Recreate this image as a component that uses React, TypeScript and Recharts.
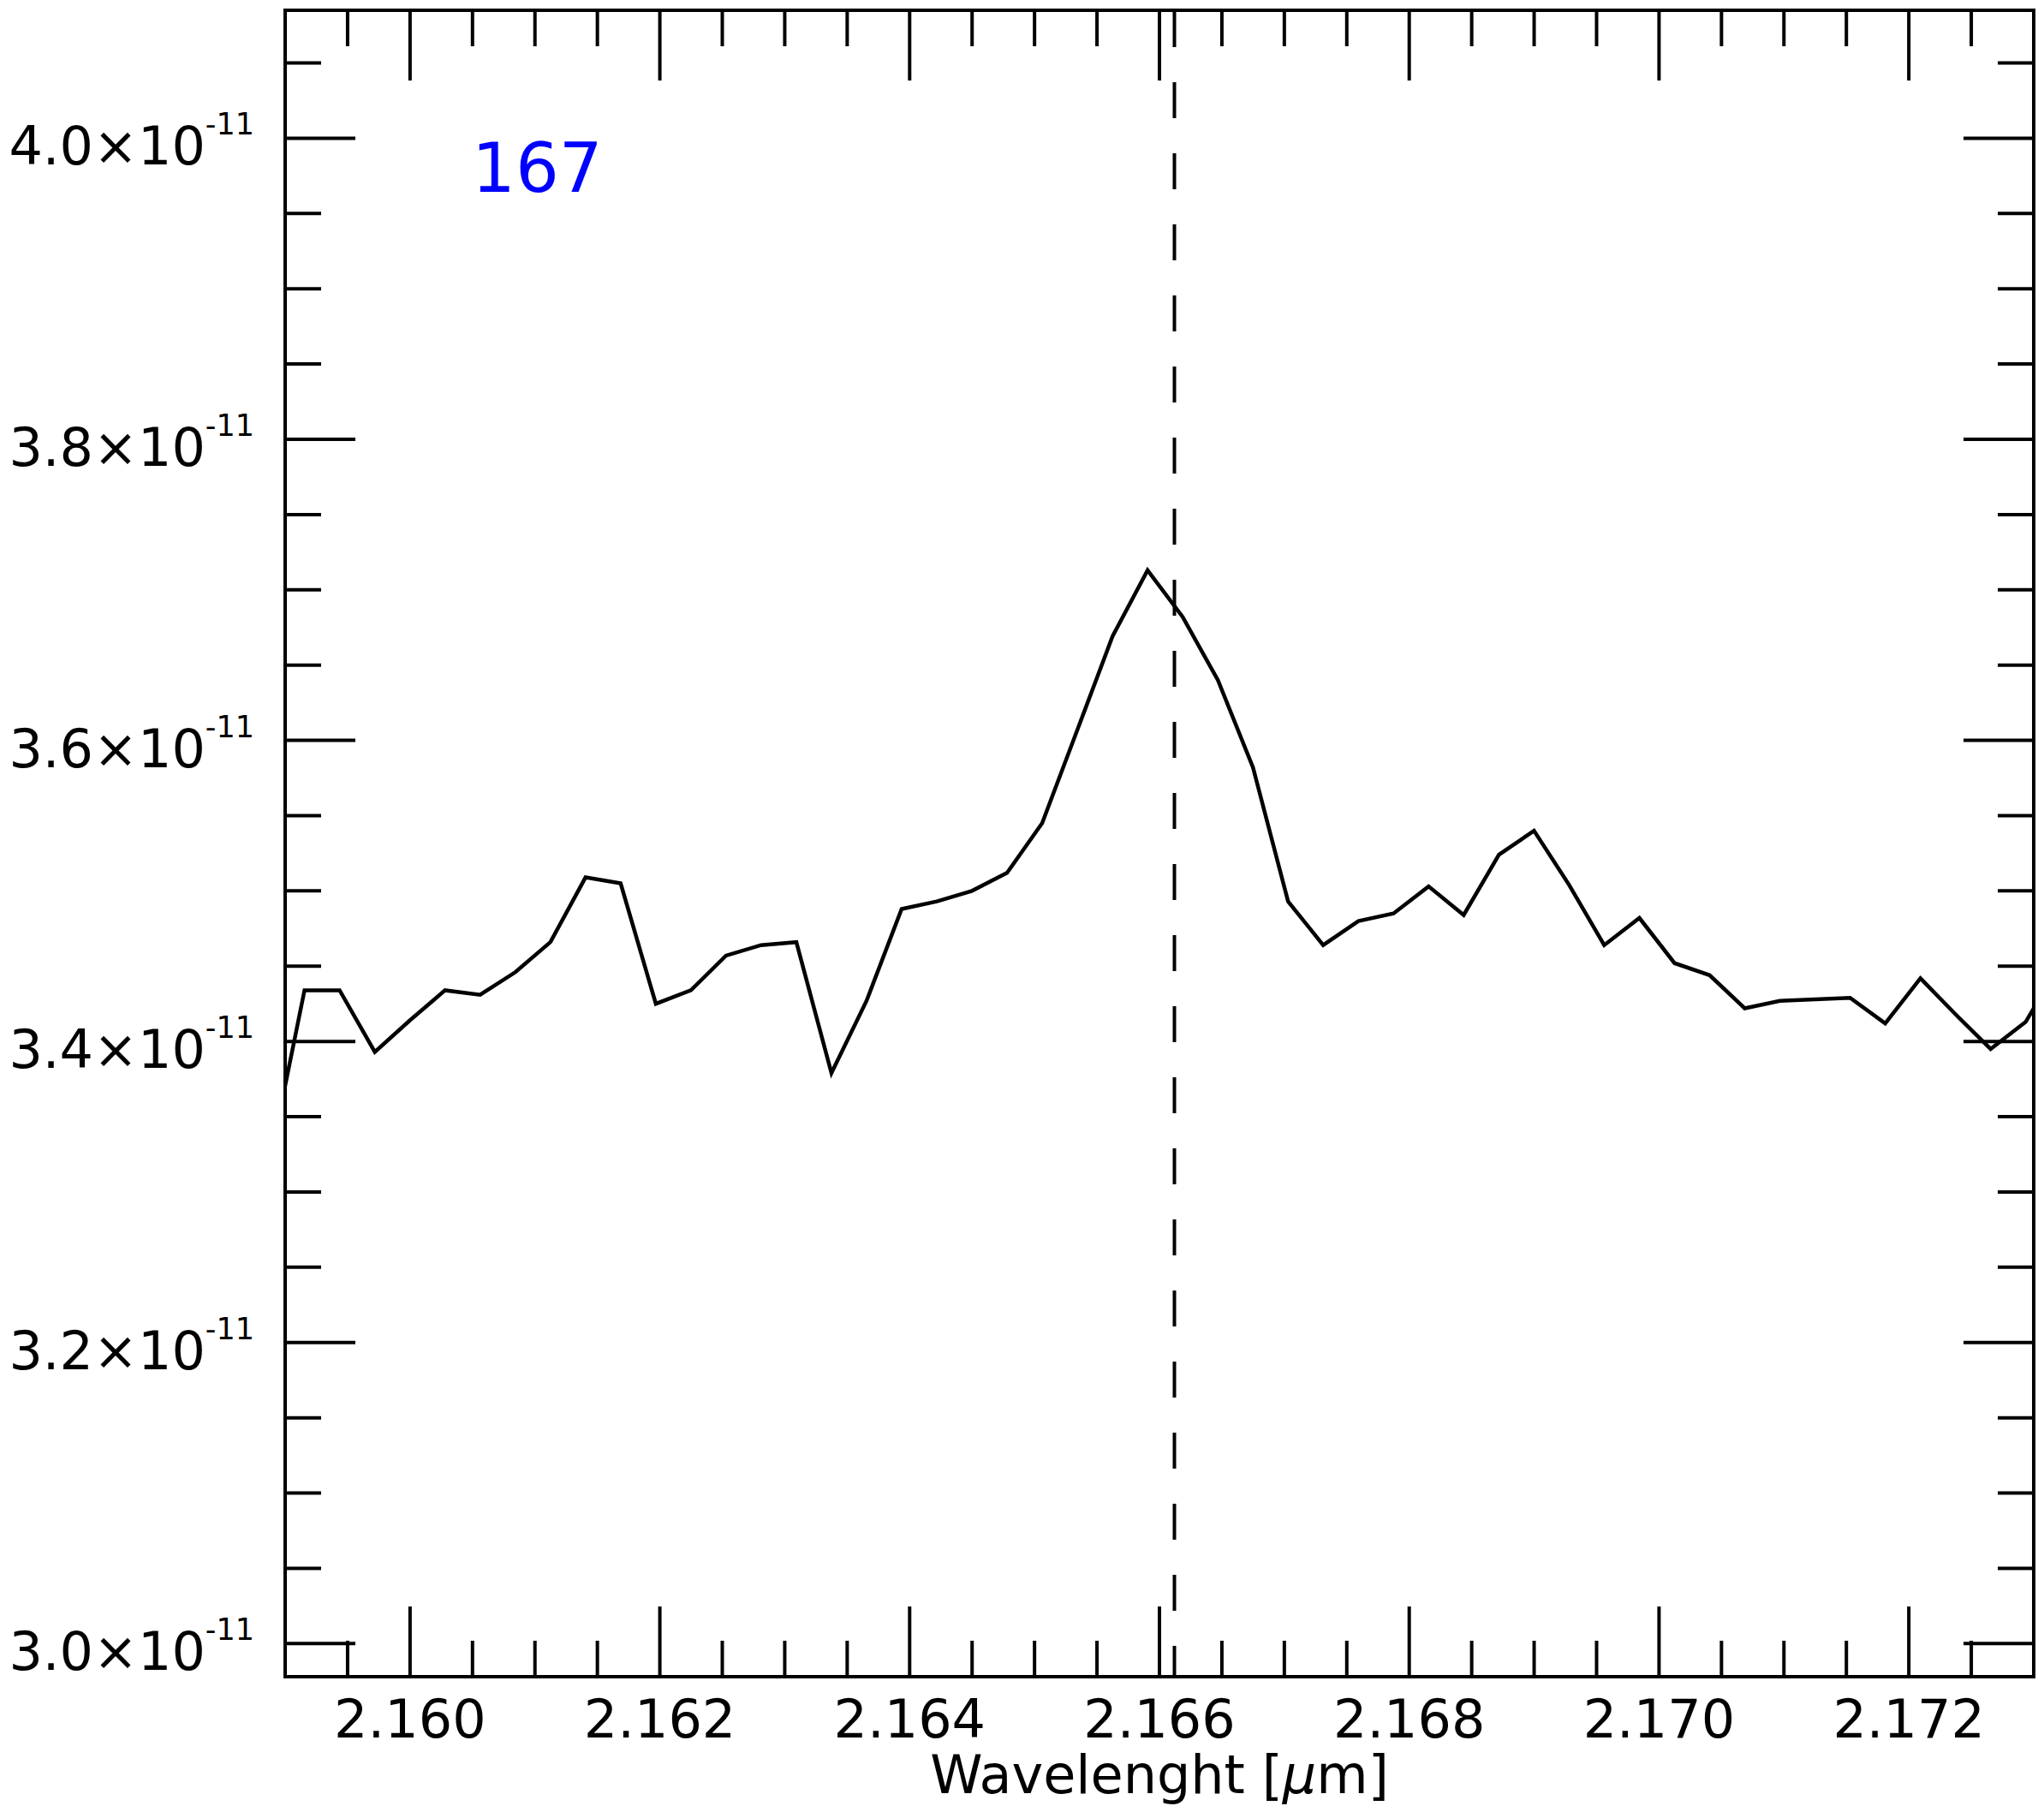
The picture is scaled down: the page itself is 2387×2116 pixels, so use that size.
import React from 'react';
import { LineChart, Line, XAxis, YAxis, ReferenceLine } from 'recharts';

// spectrum samples, wavelength in micron, flux in units of 1e-11
const wavelength = [
  2.158874, 2.159155, 2.159436, 2.159718, 2.159999, 2.16028, 2.160561, 2.160843,
  2.161124, 2.161405, 2.161686, 2.161968, 2.162249, 2.16253, 2.162811, 2.163093,
  2.163374, 2.163655, 2.163936, 2.164218, 2.164499, 2.16478, 2.165061, 2.165343,
  2.165624, 2.165905, 2.166186, 2.166468, 2.166749, 2.16703, 2.167311, 2.167593,
  2.167874, 2.168155, 2.168436, 2.168718, 2.168999, 2.16928, 2.169561, 2.169843,
  2.170124, 2.170405, 2.170686, 2.170968, 2.171249, 2.17153, 2.171811, 2.172093,
  2.172374, 2.172655, 2.172936, 2.173218,
];
const flux = [
  3.319, 3.434, 3.434, 3.393, 3.414, 3.434, 3.431, 3.446,
  3.466, 3.509, 3.505, 3.425, 3.434, 3.457, 3.464, 3.466,
  3.379, 3.427, 3.488, 3.493, 3.5, 3.512, 3.545, 3.607,
  3.669, 3.713, 3.682, 3.64, 3.582, 3.493, 3.464, 3.48,
  3.485, 3.503, 3.484, 3.524, 3.54, 3.504, 3.464, 3.482,
  3.452, 3.444, 3.422, 3.427, 3.428, 3.429, 3.412, 3.442,
  3.418, 3.395, 3.413, 3.453,
];

const xMajorTicks = [2.16, 2.162, 2.164, 2.166, 2.168, 2.17, 2.172];
const xMinorTicks = [
  2.1595, 2.1605, 2.161, 2.1615, 2.1625, 2.163, 2.1635, 2.1645, 2.165, 2.1655,
  2.1665, 2.167, 2.1675, 2.1685, 2.169, 2.1695, 2.1705, 2.171, 2.1715, 2.1725,
];
const yMajorTicks = [3.0, 3.2, 3.4, 3.6, 3.8, 4.0];
const yMinorTicks = [
  3.05, 3.1, 3.15, 3.25, 3.3, 3.35, 3.45, 3.5, 3.55, 3.65, 3.7, 3.75, 3.85, 3.9, 3.95, 4.05,
];

// Br gamma rest wavelength
const lineCenter = 2.16612;
const panelLabel = '167';
const xLabel = 'Wavelenght [';

const data = wavelength.map((w, i) => ({ w, f: flux[i] }));
const xTicks = [...xMajorTicks, ...xMinorTicks].sort((a, b) => a - b);
const yTicks = [...yMajorTicks, ...yMinorTicks].sort((a, b) => a - b);

const FONT = 'DejaVu Sans';
const MAJOR = 82;
const MINOR = 42;
const SW = 4;

const BottomTick = (props: any) => {
  const { x, y, payload } = props;
  const major = xMajorTicks.includes(payload.value);
  return (
    <g>
      <line x1={x} x2={x} y1={y} y2={y - (major ? MAJOR : MINOR)} stroke="#000" strokeWidth={SW} />
      {major && (
        <text x={x} y={y + 71} textAnchor="middle" fontSize={62} fontFamily={FONT} fill="#000">
          {payload.value.toFixed(3)}
        </text>
      )}
    </g>
  );
};

const TopTick = (props: any) => {
  const { x, y, payload } = props;
  const major = xMajorTicks.includes(payload.value);
  return <line x1={x} x2={x} y1={y} y2={y + (major ? MAJOR : MINOR)} stroke="#000" strokeWidth={SW} />;
};

const LeftTick = (props: any) => {
  const { x, y, payload } = props;
  const major = yMajorTicks.includes(payload.value);
  return (
    <g>
      <line x1={x} x2={x + (major ? MAJOR : MINOR)} y1={y} y2={y} stroke="#000" strokeWidth={SW} />
      {major && (
        <text x={x - 36} y={y + 31} textAnchor="end" fontSize={62} fontFamily={FONT} fill="#000">
          <tspan>{payload.value.toFixed(1)}×10</tspan>
          <tspan fontSize={35} dy={-35}>-11</tspan>
        </text>
      )}
    </g>
  );
};

const RightTick = (props: any) => {
  const { x, y, payload } = props;
  const major = yMajorTicks.includes(payload.value);
  return <line x1={x} x2={x - (major ? MAJOR : MINOR)} y1={y} y2={y} stroke="#000" strokeWidth={SW} />;
};

const frame = { stroke: '#000', strokeWidth: SW, strokeLinecap: 'square' as const };

export default function App() {
  return (
    <div style={{ position: 'absolute', left: 0, top: 0, width: 2387, height: 2116, background: '#fff' }}>
      <LineChart width={2387} height={2116} data={data} margin={{ top: 11, right: 11, bottom: 157, left: 332 }}>
        <XAxis
          xAxisId="b"
          type="number"
          dataKey="w"
          orientation="bottom"
          domain={[2.159, 2.173]}
          allowDataOverflow
          ticks={xTicks}
          interval={0}
          height={1}
          tickSize={0}
          tickMargin={0}
          tickLine={false}
          axisLine={frame}
          tick={BottomTick}
        />
        <XAxis
          xAxisId="t"
          type="number"
          dataKey="w"
          orientation="top"
          domain={[2.159, 2.173]}
          allowDataOverflow
          ticks={xTicks}
          interval={0}
          height={1}
          tickSize={0}
          tickMargin={0}
          tickLine={false}
          axisLine={frame}
          tick={TopTick}
        />
        <YAxis
          yAxisId="l"
          type="number"
          orientation="left"
          domain={[2.978, 4.085]}
          allowDataOverflow
          ticks={yTicks}
          interval={0}
          width={1}
          tickSize={0}
          tickMargin={0}
          tickLine={false}
          axisLine={frame}
          tick={LeftTick}
        />
        <YAxis
          yAxisId="r"
          type="number"
          orientation="right"
          domain={[2.978, 4.085]}
          allowDataOverflow
          ticks={yTicks}
          interval={0}
          width={1}
          tickSize={0}
          tickMargin={0}
          tickLine={false}
          axisLine={frame}
          tick={RightTick}
        />
        <ReferenceLine
          xAxisId="b"
          yAxisId="l"
          x={lineCenter}
          stroke="#000"
          strokeWidth={SW}
          strokeDasharray="42 41"
          strokeDashoffset={6}
        />
        <Line
          xAxisId="b"
          yAxisId="l"
          type="linear"
          dataKey="f"
          stroke="#000"
          strokeWidth={4.5}
          dot={false}
          activeDot={false}
          isAnimationActive={false}
        />
      </LineChart>
      <svg width={2387} height={2116} style={{ position: 'absolute', left: 0, top: 0, pointerEvents: 'none' }}>
        <text x={551} y={224} fontSize={80} fontFamily={FONT} fill="#0000ff">
          {panelLabel}
        </text>
        <text x={1354} y={2094} textAnchor="middle" fontSize={62} fontFamily={FONT} fill="#000">
          {xLabel}
          <tspan fontStyle="italic">μ</tspan>m]
        </text>
      </svg>
    </div>
  );
}
